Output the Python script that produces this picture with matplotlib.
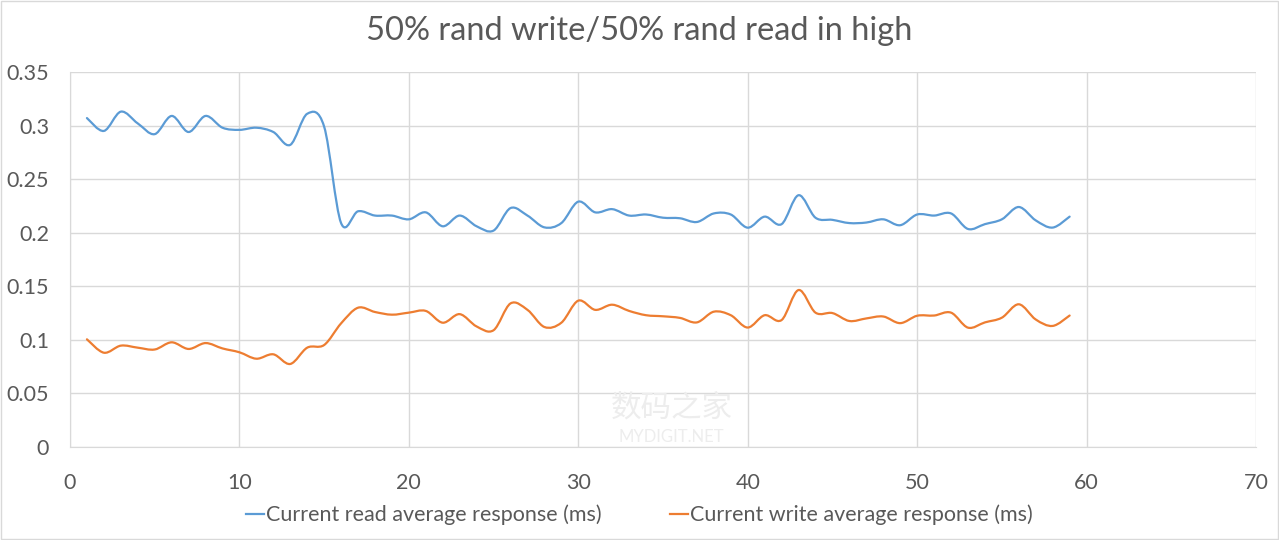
"""Resposta média de leitura/escrita (50% rand write / 50% rand read)."""

import matplotlib

matplotlib.use("Agg")
import matplotlib.pyplot as plt
import numpy as np
from matplotlib.patches import PathPatch, Rectangle
from matplotlib.path import Path
from matplotlib.lines import Line2D

TITULO = "50% rand write/50% rand read in high"
ROTULO_LEITURA = "Current read average response (ms)"
ROTULO_ESCRITA = "Current write average response (ms)"

amostras = list(range(1, 60))

leitura = [
    0.307, 0.295, 0.313, 0.302, 0.292, 0.309, 0.294, 0.309, 0.298, 0.296,
    0.298, 0.294, 0.282, 0.311, 0.299, 0.209, 0.220, 0.216, 0.216, 0.2125,
    0.219, 0.206, 0.216, 0.206, 0.202, 0.223, 0.216, 0.205, 0.209, 0.229,
    0.219, 0.222, 0.216, 0.217, 0.214, 0.2135, 0.210, 0.218, 0.217, 0.2047,
    0.215, 0.208, 0.235, 0.214, 0.212, 0.209, 0.2095, 0.2125, 0.207, 0.217,
    0.216, 0.218, 0.2035, 0.208, 0.2125, 0.224, 0.2115, 0.2048, 0.215,
]

escrita = [
    0.1005, 0.088, 0.0946, 0.0927, 0.091, 0.0977, 0.0915, 0.097, 0.092, 0.0884,
    0.0824, 0.0865, 0.0775, 0.0927, 0.0952, 0.1154, 0.130, 0.126, 0.1235, 0.1254,
    0.127, 0.116, 0.124, 0.1125, 0.109, 0.134, 0.128, 0.112, 0.116, 0.1366,
    0.128, 0.1328, 0.127, 0.123, 0.122, 0.1205, 0.1163, 0.1263, 0.123, 0.1115,
    0.123, 0.1185, 0.1465, 0.1254, 0.125, 0.1176, 0.120, 0.1218, 0.1156, 0.1225,
    0.1227, 0.1254, 0.1114, 0.1163, 0.1207, 0.1332, 0.119, 0.113, 0.1227,
]

ticks_x = [0, 10, 20, 30, 40, 50, 60, 70]
ticks_y = [0, 0.05, 0.1, 0.15, 0.2, 0.25, 0.3, 0.35]
rotulos_y = ["0", "0.05", "0.1", "0.15", "0.2", "0.25", "0.3", "0.35"]

AZUL = "#5B9BD5"
LARANJA = "#ED7D31"
CINZA_TEXTO = "#595959"
CINZA_GRADE = "#D9D9D9"

plt.rcParams["font.family"] = ["Lato", "Noto Sans CJK SC", "DejaVu Sans"]


def caminho_suave(xs, ys):
    """Curva Catmull-Rom em Bézier cúbicas, como a 'linha suavizada' do Excel."""
    p = np.column_stack([xs, ys]).astype(float)
    ext = np.vstack([p[0], p, p[-1]])
    vertices = [p[0]]
    codigos = [Path.MOVETO]
    for i in range(1, len(ext) - 2):
        p0, p1, p2, p3 = ext[i - 1], ext[i], ext[i + 1], ext[i + 2]
        c1 = p1 + (p2 - p0) / 6
        c2 = p2 - (p3 - p1) / 6
        vertices += [c1, c2, p2]
        codigos += [Path.CURVE4] * 3
    return Path(vertices, codigos)


fig = plt.figure(figsize=(12.79, 5.4), dpi=100)
eixo = fig.add_axes([70 / 1279, 93 / 540, 1186 / 1279, 375 / 540])

for serie, cor in [(leitura, AZUL), (escrita, LARANJA)]:
    eixo.add_patch(
        PathPatch(caminho_suave(amostras, serie), facecolor="none", edgecolor=cor,
                  lw=1.6, capstyle="round", joinstyle="round", zorder=3)
    )

eixo.set_xlim(0, 70)
eixo.set_ylim(0, 0.35)
eixo.set_xticks(ticks_x)
eixo.set_yticks(ticks_y)
eixo.set_yticklabels(rotulos_y)
eixo.tick_params(length=0, labelsize=15.5, colors=CINZA_TEXTO)
eixo.tick_params(axis="y", pad=15)
eixo.tick_params(axis="x", pad=19)
eixo.grid(True, color=CINZA_GRADE, lw=1)
eixo.set_axisbelow(True)
for lado in ["top", "right"]:
    eixo.spines[lado].set_visible(False)
for lado in ["left", "bottom"]:
    eixo.spines[lado].set_color(CINZA_GRADE)

fig.text(0.5, 1 - 31 / 540, TITULO, ha="center", va="center", fontsize=23.5,
         color=CINZA_TEXTO)

alcas = [Line2D([], [], color=AZUL, lw=1.6), Line2D([], [], color=LARANJA, lw=1.6)]
fig.legend(alcas, [ROTULO_LEITURA, ROTULO_ESCRITA], loc="center",
           bbox_to_anchor=(0.5, 1 - 515 / 540), ncol=2, frameon=False,
           fontsize=15.5, labelcolor=CINZA_TEXTO, handlelength=0.8,
           handletextpad=0.1, columnspacing=3.2)

# marca d'água do site
fig.text(0.525, 1 - 407 / 540, "数码之家", ha="center", va="center",
         fontsize=22, color="#EDEDED", zorder=0)
fig.text(0.525, 1 - 437 / 540, "MYDIGIT.NET", ha="center", va="center",
         fontsize=12, color="#EDEDED", zorder=0)

fig.add_artist(Rectangle((0.0008, 0.0015), 0.9984, 0.997, transform=fig.transFigure,
                         fill=False, edgecolor=CINZA_GRADE, lw=1))

fig.savefig("out.png", dpi=100)
plt.close(fig)
